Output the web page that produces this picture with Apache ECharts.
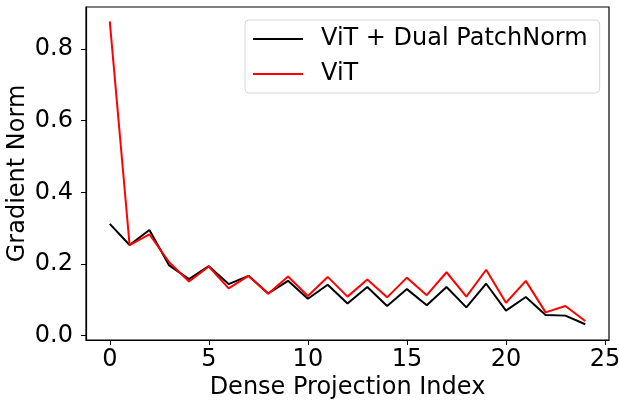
<!DOCTYPE html>
<html>
<head>
<meta charset="utf-8">
<script src="https://cdn.jsdelivr.net/npm/echarts@6/dist/echarts.min.js"></script>
<style>
	html, body { margin: 0; padding: 0; background: #fff; }
	#chart { width: 619px; height: 400px; }
</style>
</head>
<body>
<div id="chart"></div>
<script>
	// values
	var indices = [ 0, 1, 2, 3, 4, 5, 6, 7, 8, 9, 10, 11, 12, 13, 14, 15, 16, 17, 18, 19, 20, 21, 22, 23, 24 ];
	var dualPatchNorm = [ 0.312, 0.253, 0.295, 0.196, 0.158, 0.194, 0.144, 0.167, 0.118, 0.153, 0.103, 0.142, 0.090, 0.136, 0.083, 0.130, 0.085, 0.136, 0.079, 0.145, 0.070, 0.108, 0.058, 0.056, 0.032 ];
	var vit = [ 0.877, 0.253, 0.283, 0.205, 0.151, 0.193, 0.132, 0.167, 0.117, 0.165, 0.111, 0.164, 0.109, 0.157, 0.107, 0.162, 0.113, 0.177, 0.109, 0.184, 0.092, 0.153, 0.065, 0.083, 0.041 ];
	var xTicks = [ 0, 5, 10, 15, 20, 25 ];
	var yTicks = [ 0, 0.2, 0.4, 0.6, 0.8 ];

	var seriesNames = [ "ViT + Dual PatchNorm", "ViT" ];

	var toPairs = function( ys ){
		var out = [];
		for( var i = 0; i < indices.length; ++i ) out.push( [ indices[ i ], ys[ i ] ] );
		return out;
	};

	var font = "DejaVu Sans";
	var fs = 24;
	var myChart = echarts.init( document.getElementById( "chart" ), null, { renderer : "canvas" } );

	var option = {
		animation : false,
		grid : {
			left : 86, right : 10, top : 7, bottom : 60,
			outerBoundsMode : "none", containLabel : false,
			show : true, borderColor : "#000", borderWidth : 1.2, backgroundColor : "transparent"
		},
		legend : {
			orient : "vertical",
			left : 245, top : 20,
			padding : [ 7, 12, 7, 8 ],
			itemGap : 11,
			itemWidth : 50, itemHeight : 2,
			icon : "rect",
			borderColor : "#d6d6d6", borderWidth : 1, borderRadius : 4,
			backgroundColor : "rgba(255,255,255,0.8)",
			textStyle : { fontFamily : font, fontSize : fs, color : "#000", padding : [ 0, 0, 0, 13 ] },
			data : seriesNames
		},
		xAxis : {
			type : "value",
			min : -1.2, max : 25.2,
			name : "Dense Projection Index",
			nameLocation : "middle", nameGap : 36, nameMoveOverlap : false,
			nameTextStyle : { fontFamily : font, fontSize : fs, color : "#000" },
			axisLine : { show : true, onZero : false, lineStyle : { color : "#000", width : 1.2 } },
			axisTick : { show : true, length : 5, customValues : xTicks, lineStyle : { color : "#000" } },
			axisLabel : { customValues : xTicks, margin : 8, fontFamily : font, fontSize : fs, color : "#000" },
			splitLine : { show : false }
		},
		yAxis : {
			type : "value",
			min : -0.012, max : 0.917,
			name : "Gradient Norm",
			nameLocation : "middle", nameGap : 56, nameMoveOverlap : false,
			nameTextStyle : { fontFamily : font, fontSize : fs, color : "#000" },
			axisLine : { show : true, onZero : false, lineStyle : { color : "#000", width : 1.2 } },
			axisTick : { show : true, length : 5, customValues : yTicks, lineStyle : { color : "#000" } },
			axisLabel : {
				customValues : yTicks, margin : 13, fontFamily : font, fontSize : fs, color : "#000",
				formatter : function( v ){ return v.toFixed( 1 ); }
			},
			splitLine : { show : false }
		},
		series : [
			{
				name : seriesNames[ 0 ], type : "line", data : toPairs( dualPatchNorm ),
				showSymbol : false, symbol : "none", color : "#000",
				lineStyle : { color : "#000", width : 2 }
			},
			{
				name : seriesNames[ 1 ], type : "line", data : toPairs( vit ),
				showSymbol : false, symbol : "none", color : "#ff0000",
				lineStyle : { color : "#ff0000", width : 2 }
			}
		]
	};

	myChart.setOption( option, true );
</script>
</body>
</html>
